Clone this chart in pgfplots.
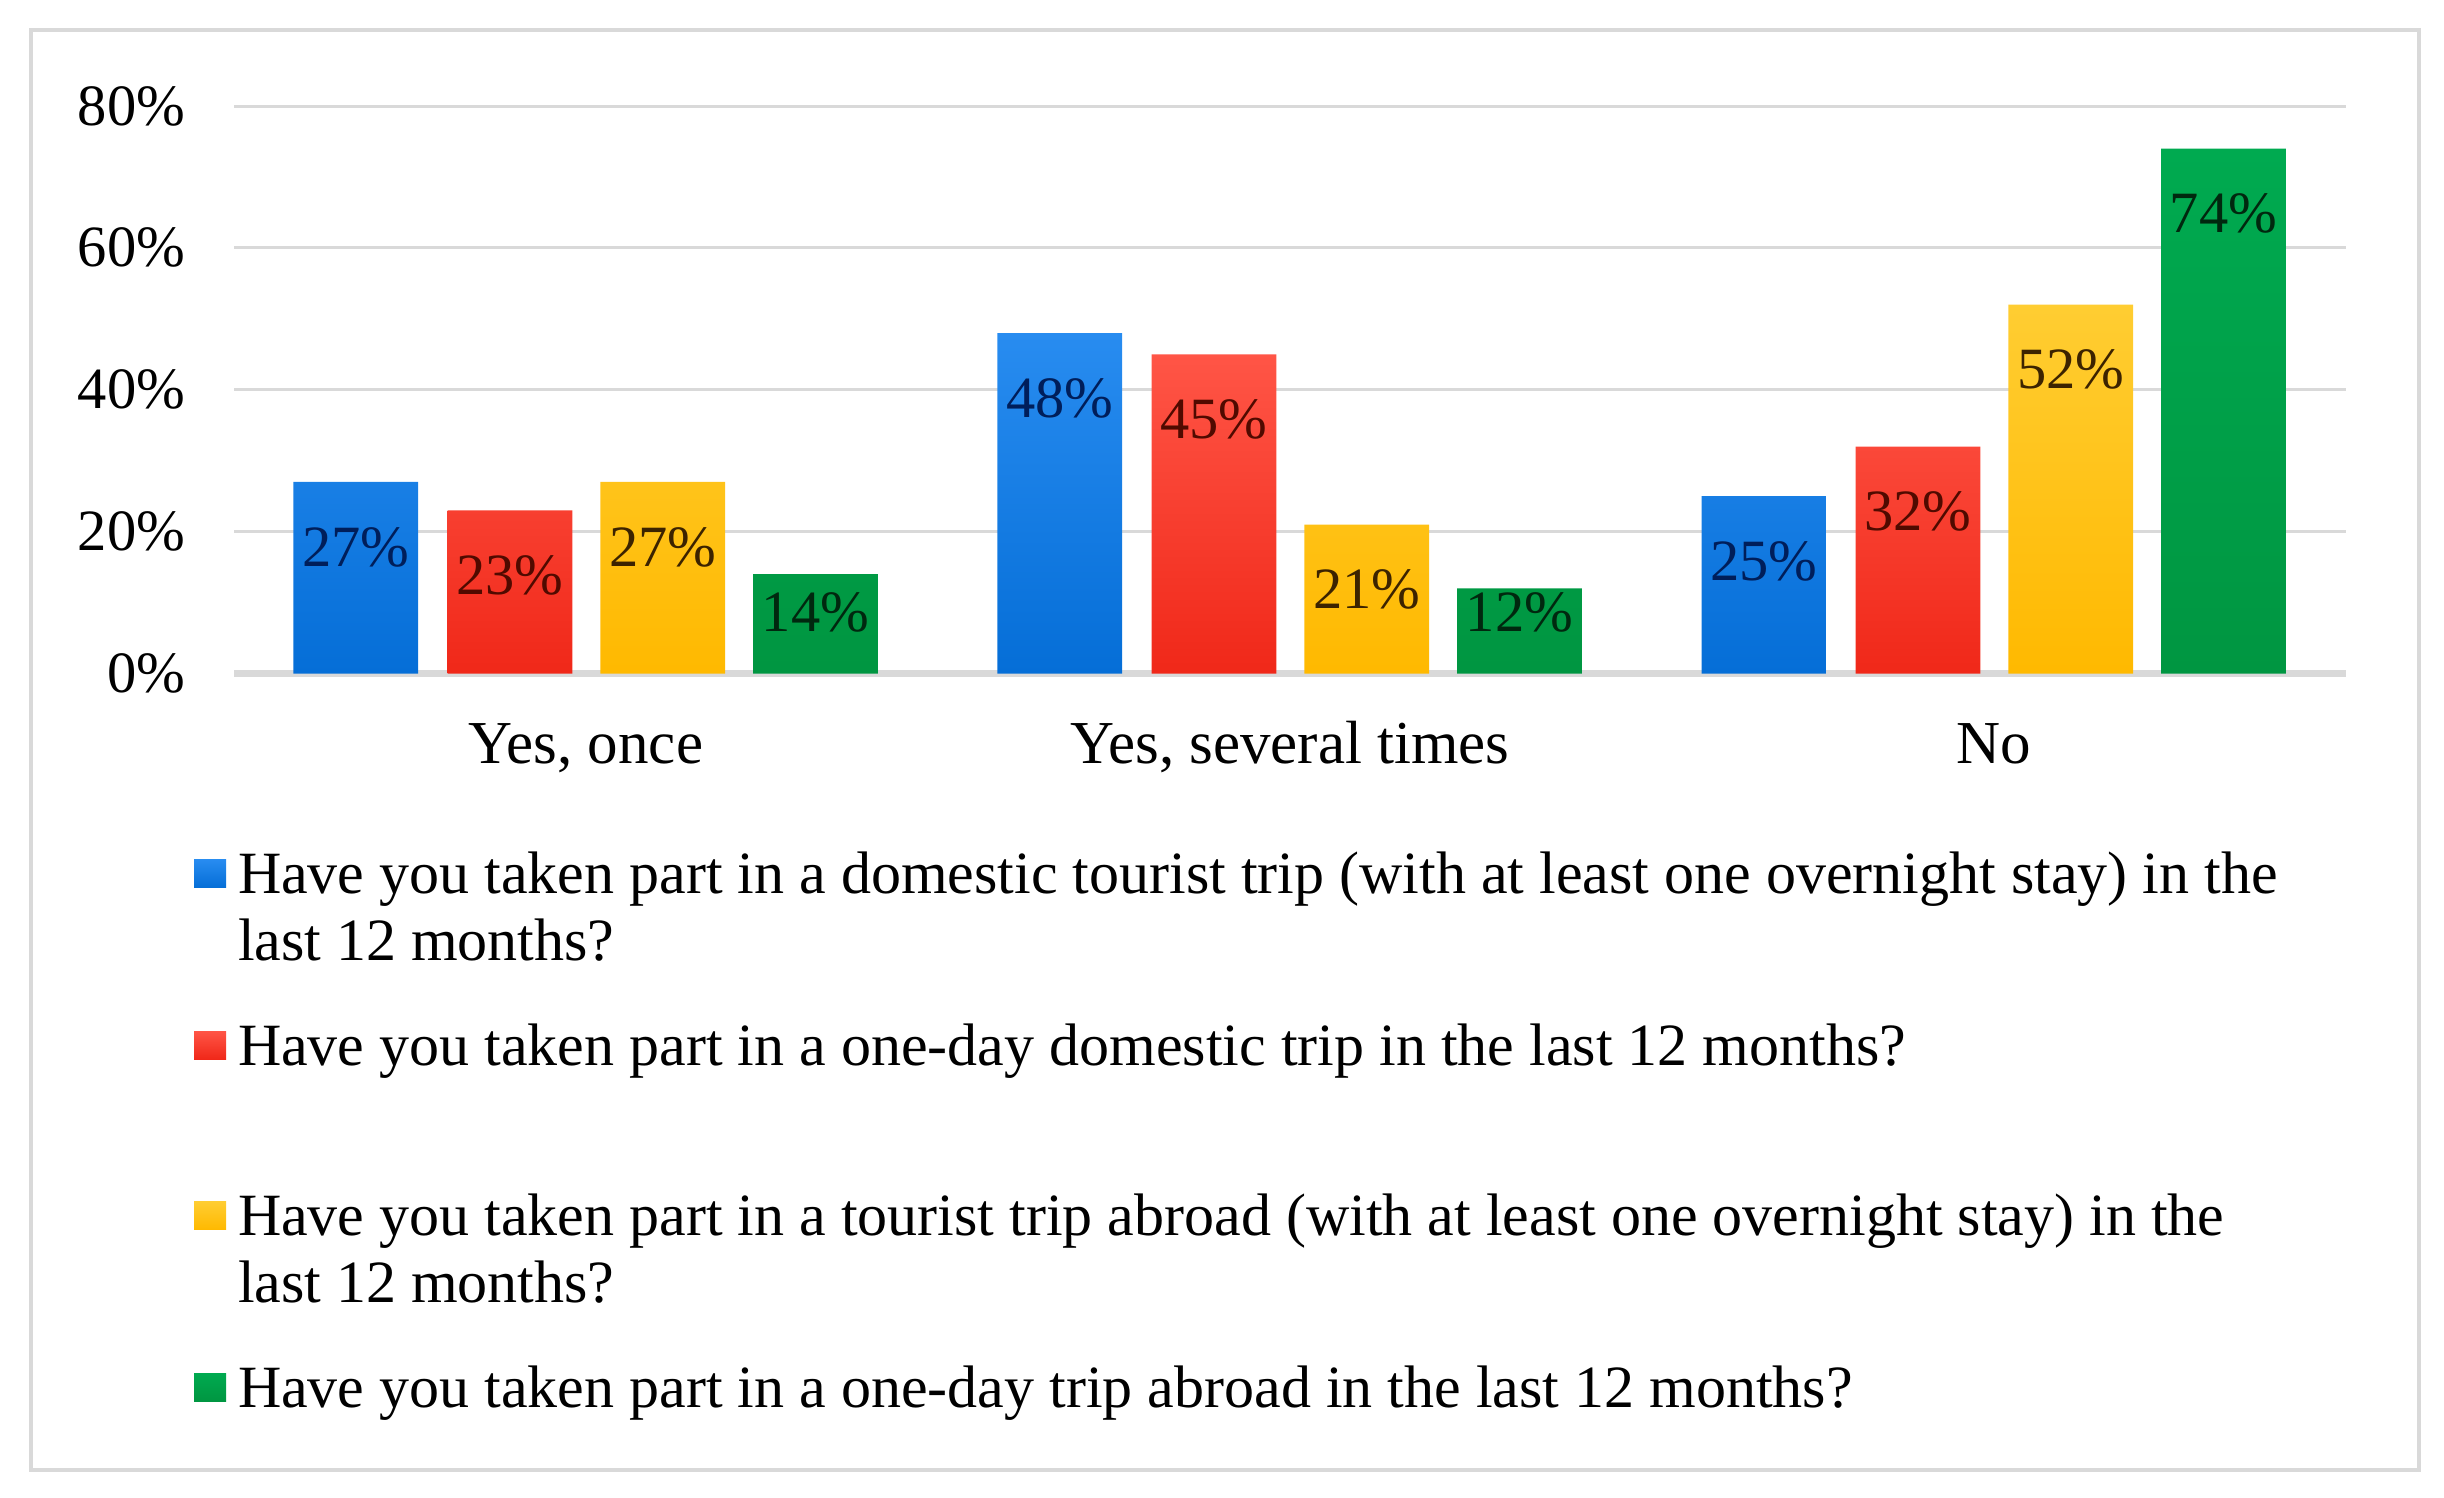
\documentclass[border=0pt]{standalone}
\usepackage{fontspec}
\setmainfont{Liberation Serif}
\usepackage{pgfplots}
\pgfplotsset{compat=1.18}
\definecolor{blueT}{RGB}{40,140,240}
\definecolor{blueB}{RGB}{5,110,215}
\definecolor{redT}{RGB}{255,85,70}
\definecolor{redB}{RGB}{240,40,25}
\definecolor{yelT}{RGB}{255,205,50}
\definecolor{yelB}{RGB}{255,185,0}
\definecolor{grnT}{RGB}{0,170,80}
\definecolor{grnB}{RGB}{0,150,65}
\definecolor{blueL}{RGB}{20,115,230}
\definecolor{redL}{RGB}{250,50,40}
\definecolor{yelL}{RGB}{255,192,0}
\definecolor{grnL}{RGB}{0,160,70}
\definecolor{lblBlue}{RGB}{0,30,90}
\definecolor{lblRed}{RGB}{80,10,0}
\definecolor{lblYel}{RGB}{60,35,0}
\definecolor{lblGrn}{RGB}{0,40,15}
\definecolor{gridGray}{RGB}{217,217,217}
\definecolor{frameGray}{RGB}{217,217,217}
\newcommand\cf{\fontsize{11.7}{13.4}\selectfont}
\newcommand\lf{\fontsize{12}{13.4}\selectfont}
\newcommand\xf{\fontsize{12.2}{13.4}\selectfont}
\pgfplotsset{legsq/.style={legend image code/.code={\fill[#1] (0pt,-7.1pt) rectangle (6.4pt,-1.5pt);}}}
\begin{document}
\begin{tikzpicture}
\path[use as bounding box] (0pt,0pt) rectangle (488.8pt,299.4pt);
\draw[frameGray, line width=0.8pt] (6.2pt,5.4pt) rectangle (483.8pt,293.4pt);
\begin{axis}[
  at={(46.8pt,164.7pt)}, anchor=south west,
  scale only axis, width=422.4pt, height=113.5pt,
  xmin=-0.5, xmax=2.5, ymin=0, ymax=80,
  ybar, bar width=0.177,
  axis line style={draw=none},
  tick style={draw=none},
  major tick length=0pt,
  ymajorgrids, grid style={gridGray, line width=0.6pt},
  extra y ticks={0}, extra y tick labels={},
  extra y tick style={grid style={gridGray, line width=1.4pt}},
  ytick={0,20,40,60,80},
  yticklabel={\pgfmathprintnumber{\tick}\%},
  /pgf/number format/assume math mode=true,
  yticklabel style={anchor=east, inner sep=0pt, xshift=-9.6pt, font=\cf},
  xtick={0,1,2},
  xticklabels={{Yes, once},{Yes, several times},{No}},
  xticklabel style={anchor=base, inner sep=0pt, yshift=-18pt, font=\xf},
  visualization depends on={value \thisrow{sh} \as \lsh},
  nodes near coords={\pgfmathprintnumber{\pgfplotspointmeta}\%},
  every node near coord/.append style={anchor=center, yshift=\lsh pt, font=\cf, inner sep=0pt},
  legend style={at={(-0.01894,-0.3146)}, anchor=north west, draw=none, fill=none,
    inner sep=0pt, outer sep=0pt, row sep=12.4pt, column sep=2.4pt, font=\lf,
    cells={anchor=north west, align=left}, nodes={inner sep=0pt, text depth={}}},
]
\addplot[draw=none, top color=blueT, bottom color=blueB, bar shift=-0.327, legsq=blueL,
  every node near coord/.append style={text=lblBlue}] table {
x y sh
0 27 -13
1 48 -13
2 25 -13
};
\addlegendentry{Have you taken part in a domestic tourist trip (with at least one overnight stay) in the\\last 12 months?}
\addplot[draw=none, top color=redT, bottom color=redB, bar shift=-0.108, legsq=redL,
  every node near coord/.append style={text=lblRed}] table {
x y sh
0 23 -13
1 45 -13
2 32 -13
};
\addlegendentry{Have you taken part in a one-day domestic trip in the last 12 months?\\\mbox{}}
\addplot[draw=none, top color=yelT, bottom color=yelB, bar shift=0.109, legsq=yelL,
  every node near coord/.append style={text=lblYel}] table {
x y sh
0 27 -13
1 21 -13
2 52 -13
};
\addlegendentry{Have you taken part in a tourist trip abroad (with at least one overnight stay) in the\\last 12 months?}
\addplot[draw=none, top color=grnT, bottom color=grnB, bar shift=0.326, legsq=grnL,
  every node near coord/.append style={text=lblGrn}] table {
x y sh
0 14 -7.7
1 12 -4.8
2 74 -13
};
\addlegendentry{Have you taken part in a one-day trip abroad in the last 12 months?}
\end{axis}
\end{tikzpicture}
\end{document}
